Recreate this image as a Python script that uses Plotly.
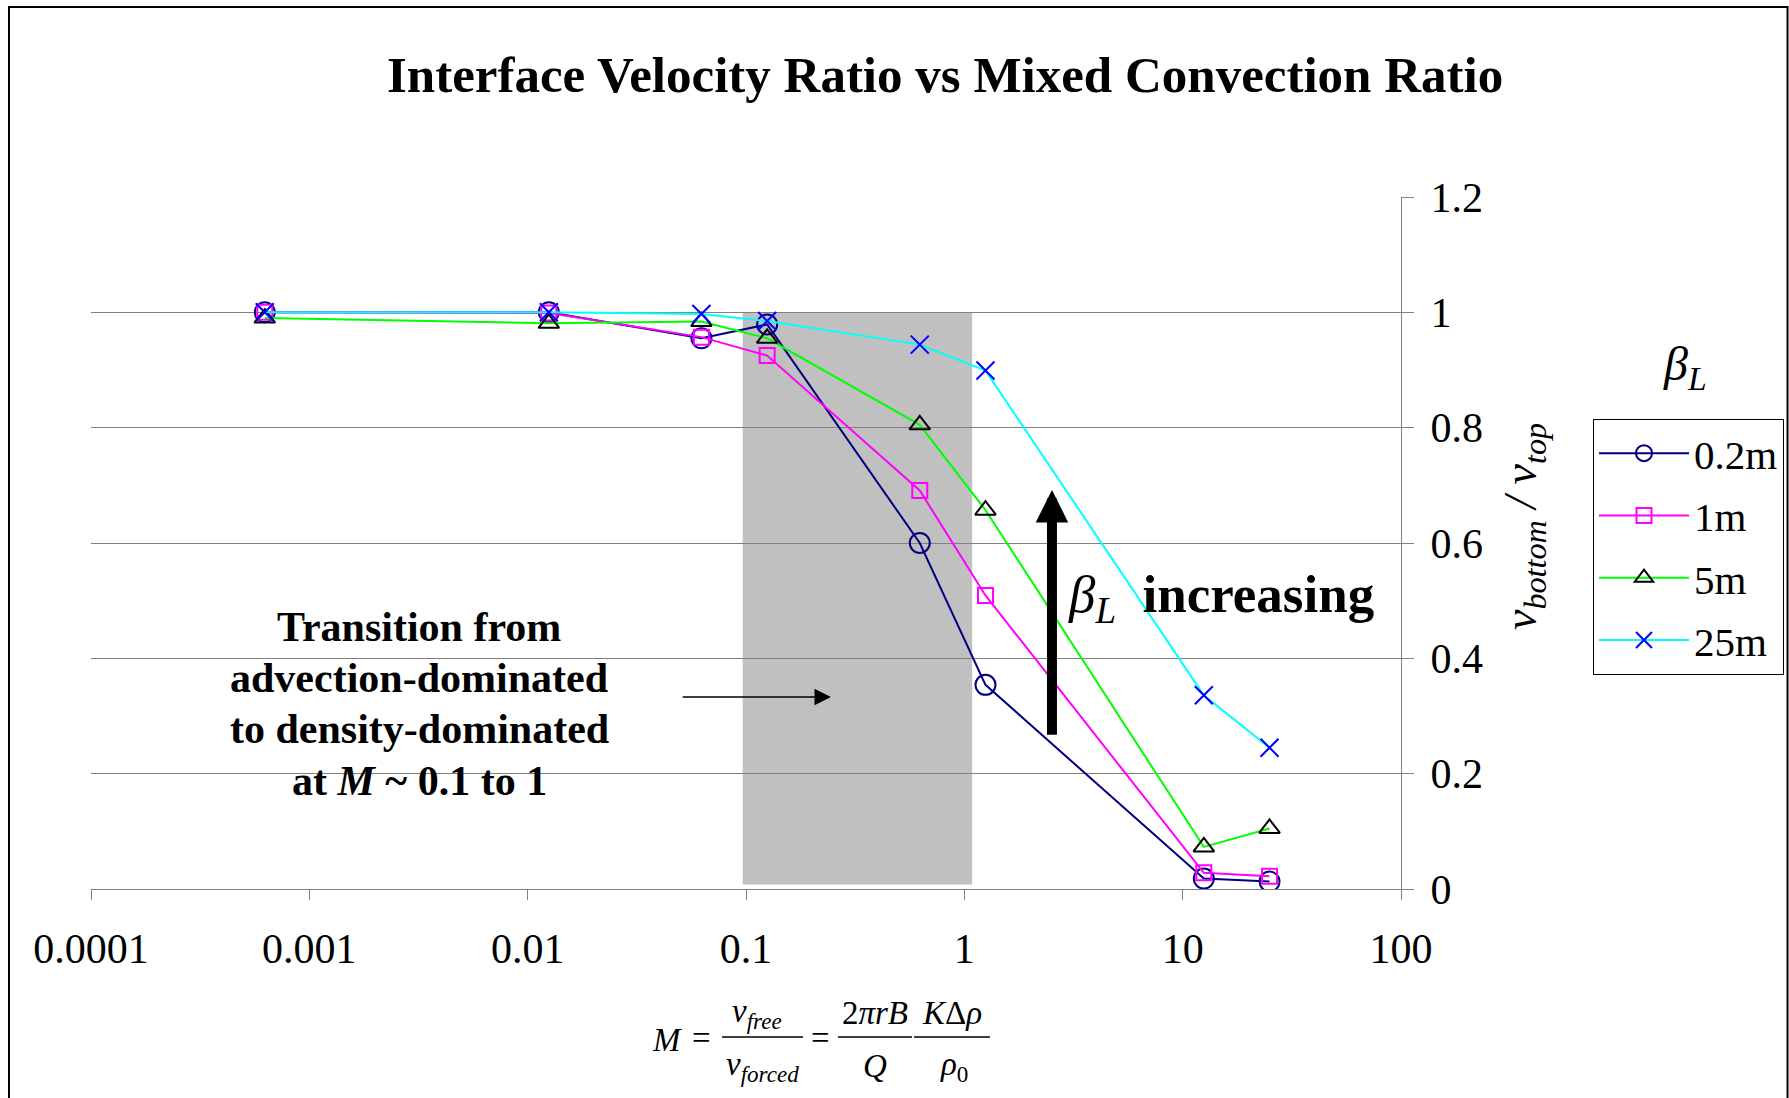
import math
import plotly.graph_objects as go

# ---------------- data ----------------
M_values = [0.000625, 0.0125, 0.0625, 0.125, 0.625, 1.25, 12.5, 25]
ratio_02m = [1.0, 1.0, 0.955, 0.979, 0.600, 0.354, 0.018, 0.013]
ratio_1m = [1.0, 0.999, 0.957, 0.925, 0.691, 0.509, 0.028, 0.022]
ratio_5m = [0.990, 0.981, 0.984, 0.955, 0.805, 0.657, 0.073, 0.105]
ratio_25m = [1.0, 1.0, 0.997, 0.985, 0.944, 0.899, 0.336, 0.245]
series_names = ["0.2m", "1m", "5m", "25m"]
x_tick_vals = [0.0001, 0.001, 0.01, 0.1, 1, 10, 100]
x_tick_text = ["0.0001", "0.001", "0.01", "0.1", "1", "10", "100"]
y_tick_vals = [0, 0.2, 0.4, 0.6, 0.8, 1.0, 1.2]
y_tick_text = ["0", "0.2", "0.4", "0.6", "0.8", "1", "1.2"]
transition_band = [0.0966, 1.086]   # M range of the shaded band
band_y = [0.008, 1.0]
transition_lines = ["Transition from", "advection-dominated",
                    "to density-dominated", "at <i>M</i> ~ 0.1 to 1"]

# ---------------- layout helpers (pixel -> paper) ----------------
W, H = 1789, 1098
PL, PR, PT, PB = 91, 1401, 197, 889


def fx(px):
    return (px - PL) / (PR - PL)


def fy(py):
    return (PB - py) / (PB - PT)


SERIF = "Liberation Serif, Times New Roman, serif"

styles = [
    dict(line=dict(color="#000080", width=2),
         marker=dict(symbol="circle-open", size=20, color="#000080", line=dict(width=2))),
    dict(line=dict(color="#FF00FF", width=2),
         marker=dict(symbol="square-open", size=15, color="#FF00FF", line=dict(width=2))),
    dict(line=dict(color="#00FF00", width=2),
         marker=dict(symbol="triangle-up-open", size=18, color="#000000", line=dict(width=2))),
    dict(line=dict(color="#00FFFF", width=2),
         marker=dict(symbol="x-thin-open", size=18, color="#0000FF", line=dict(width=2, color="#0000FF"))),
]

fig = go.Figure()
for i, (name, ys) in enumerate(zip(series_names, [ratio_02m, ratio_1m, ratio_5m, ratio_25m])):
    fig.add_trace(go.Scatter(
        x=M_values, y=ys, name=name, mode="lines+markers",
        legendgroup=name, **styles[i]))

shapes = []
# shaded transition band
shapes.append(dict(type="rect", xref="x", yref="y",
                   x0=transition_band[0], x1=transition_band[1], y0=band_y[0], y1=band_y[1],
                   fillcolor="#C0C0C0", line=dict(width=0), layer="below"))
# outer frame
shapes.append(dict(type="rect", xref="paper", yref="paper",
                   x0=fx(9), x1=fx(1787.5), y0=fy(7), y1=fy(1110),
                   line=dict(color="#000000", width=2), fillcolor="rgba(0,0,0,0)"))

annotations = []
# title
annotations.append(dict(xref="paper", yref="paper", x=fx(945), y=fy(75),
                        text="<b>Interface Velocity Ratio vs Mixed Convection Ratio</b>",
                        showarrow=False, font=dict(family=SERIF, size=51, color="black"),
                        xanchor="center", yanchor="middle"))
# transition text (one annotation per line for tighter line spacing)
for k, (line_txt, py) in enumerate(zip(transition_lines, [627, 678, 729, 781])):
    annotations.append(dict(xref="paper", yref="paper", x=fx(419), y=fy(py),
                            text="<b>" + line_txt + "</b>",
                            showarrow=False, align="center",
                            font=dict(family=SERIF, size=42, color="black"),
                            xanchor="center", yanchor="middle"))
# small horizontal arrow
annotations.append(dict(xref="x", yref="y", axref="x", ayref="y",
                        x=math.log10(0.245), y=0.333, ax=math.log10(0.0505), ay=0.333,
                        text="", showarrow=True, arrowhead=2, arrowsize=2.2, arrowwidth=1.5,
                        arrowcolor="black"))
# thick vertical arrow
annotations.append(dict(xref="x", yref="y", axref="x", ayref="y",
                        x=math.log10(2.52), y=0.692, ax=math.log10(2.52), ay=0.265,
                        text="", showarrow=True, arrowhead=2, arrowsize=0.65, arrowwidth=10,
                        arrowcolor="black"))
# beta_L increasing
annotations.append(dict(xref="paper", yref="paper", x=fx(1066), y=fy(598),
                        text="<i>β<sub>L</sub></i><b>  increasing</b>",
                        showarrow=False, font=dict(family=SERIF, size=53, color="black"),
                        xanchor="left", yanchor="middle"))
# y-axis title (right)
annotations.append(dict(xref="paper", yref="paper", x=fx(1524), y=fy(527),
                        text="<i>v<sub>bottom</sub> / v<sub>top</sub></i>", textangle=-90,
                        showarrow=False, font=dict(family=SERIF, size=46, color="black"),
                        xanchor="center", yanchor="middle"))
# legend heading
annotations.append(dict(xref="paper", yref="paper", x=fx(1685), y=fy(367),
                        text="<i>β<sub>L</sub></i>",
                        showarrow=False, font=dict(family=SERIF, size=48, color="black"),
                        xanchor="center", yanchor="middle"))

# x-axis title equation
eq_font = dict(family=SERIF, size=33, color="black")
eq_parts = [
    ("<i>M</i>", 667, 1040),
    ("=", 701, 1038),
    ("<i>v<sub>free</sub></i>", 757, 1013),
    ("<i>v<sub>forced</sub></i>", 762, 1066),
    ("=", 820, 1038),
    ("2<i>πrB</i>", 875, 1013),
    ("<i>Q</i>", 875, 1066),
    ("<i>K</i>Δ<i>ρ</i>", 952, 1013),
    ("<i>ρ</i><sub>0</sub>", 954, 1066),
]
for txt, px, py in eq_parts:
    annotations.append(dict(xref="paper", yref="paper", x=fx(px), y=fy(py), text=txt,
                            showarrow=False, font=eq_font, xanchor="center", yanchor="middle"))
for x0, x1 in [(722, 803), (838, 912), (914, 990)]:
    shapes.append(dict(type="line", xref="paper", yref="paper",
                       x0=fx(x0), x1=fx(x1), y0=fy(1037), y1=fy(1037),
                       line=dict(color="black", width=1.5)))

fig.update_layout(
    width=W, height=H,
    margin=dict(l=PL, r=W - PR, t=PT, b=H - PB, pad=0, autoexpand=False),
    paper_bgcolor="white", plot_bgcolor="white",
    font=dict(family=SERIF, color="black"),
    shapes=shapes, annotations=annotations,
    showlegend=True,
    legend=dict(x=fx(1593), y=fy(419), xanchor="left", yanchor="top",
                bgcolor="white", bordercolor="black", borderwidth=1,
                font=dict(family=SERIF, size=41, color="black"),
                itemwidth=90, tracegroupgap=6, itemclick=False),
    xaxis=dict(type="log", range=[-4, 2], tickvals=x_tick_vals, ticktext=x_tick_text,
               showgrid=False, zeroline=False, showline=True, linecolor="#808080", linewidth=1,
               ticks="outside", ticklen=10, tickcolor="#808080", tickwidth=1,
               ticklabelstandoff=13, automargin=False,
               tickfont=dict(family=SERIF, size=42, color="black")),
    yaxis=dict(range=[0, 1.2], side="right", tickvals=y_tick_vals, ticktext=y_tick_text,
               showgrid=True, gridcolor="#808080", gridwidth=1, zeroline=False,
               showline=True, linecolor="#808080", linewidth=1,
               ticks="outside", ticklen=12, tickcolor="#808080", tickwidth=1,
               ticklabelstandoff=8, automargin=False,
               tickfont=dict(family=SERIF, size=42, color="black")),
)

fig.write_html(
    "out.html",
    config={"displayModeBar": False},
    post_script=("document.documentElement.style.overflow='hidden';"
                 "document.body.style.margin='0';document.body.style.overflow='hidden';"),
)
